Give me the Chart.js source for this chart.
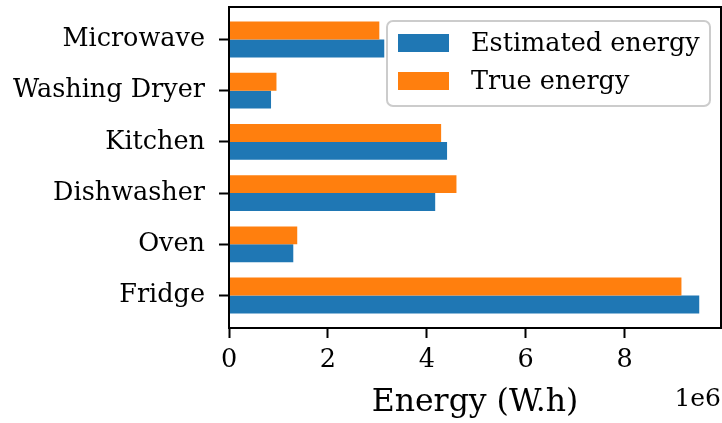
<!DOCTYPE html>
<html>
<head>
<meta charset="utf-8">
<script src="https://cdn.jsdelivr.net/npm/chart.js"></script>
<style>
    html, body { margin: 0; padding: 0; background: #fff; }
    #wrap { width: 722px; height: 423px; }
</style>
</head>
<body>
<div id="wrap"><canvas id="energyChart" width="722" height="423"></canvas></div>
<script>
// Appliances, top to bottom as they appear on the chart
const appliances = ['Microwave', 'Washing Dryer', 'Kitchen', 'Dishwasher', 'Oven', 'Fridge'];

// Energy in W.h
const estimatedEnergy = [3.14e6, 0.85e6, 4.41e6, 4.17e6, 1.30e6, 9.51e6];
const trueEnergy = [3.04e6, 0.96e6, 4.29e6, 4.60e6, 1.38e6, 9.15e6];

const xTicks = [0, 2e6, 4e6, 6e6, 8e6];

const FONT = '"DejaVu Serif", serif';
const BLUE = '#1f77b4';
const ORANGE = '#ff7f0e';

// row position on the y scale: first appliance at the top
const rowOf = i => appliances.length - 1 - i;

// Full box round the plot, the legend box and the 1e6 offset label
const framePlugin = {
    id: 'frame',
    afterDraw(chart) {
        const { ctx, chartArea: a } = chart;
        ctx.save();
        ctx.strokeStyle = '#000';
        ctx.lineWidth = 2;
        ctx.strokeRect(a.left, a.top, a.right - a.left, a.bottom - a.top);

        // legend
        const bx = a.right - 334, by = a.top + 14, bw = 323, bh = 85;
        ctx.beginPath();
        ctx.roundRect(bx, by, bw, bh, 6);
        ctx.fillStyle = 'rgba(255,255,255,0.8)';
        ctx.fill();
        ctx.strokeStyle = '#cccccc';
        ctx.lineWidth = 2;
        ctx.stroke();

        const items = [
            { label: chart.data.datasets[1].label, color: chart.data.datasets[1].backgroundColor },
            { label: chart.data.datasets[0].label, color: chart.data.datasets[0].backgroundColor }
        ];
        ctx.font = '25.5px ' + FONT;
        ctx.textBaseline = 'middle';
        ctx.textAlign = 'left';
        items.forEach((it, i) => {
            const cy = by + 22 + i * 38;
            ctx.fillStyle = it.color;
            ctx.fillRect(bx + 11, cy - 9, 51, 18);
            ctx.fillStyle = '#000';
            ctx.fillText(it.label, bx + 84, cy + 1);
        });

        // offset text
        ctx.font = '25px ' + FONT;
        ctx.textAlign = 'right';
        ctx.fillText('1e6', a.right, 399);
        ctx.restore();
    }
};

new Chart(document.getElementById('energyChart'), {
    type: 'bar',
    data: {
        datasets: [
            {
                label: 'True energy',
                data: trueEnergy.map((v, i) => ({ x: v, y: rowOf(i) })),
                backgroundColor: ORANGE
            },
            {
                label: 'Estimated energy',
                data: estimatedEnergy.map((v, i) => ({ x: v, y: rowOf(i) })),
                backgroundColor: BLUE
            }
        ]
    },
    options: {
        indexAxis: 'y',
        responsive: false,
        devicePixelRatio: 1,
        animation: false,
        categoryPercentage: 0.7,
        barPercentage: 1,
        layout: { padding: { top: 7, right: 1, left: 0, bottom: 0 } },
        scales: {
            y: {
                type: 'linear',
                offset: false,
                min: -0.635,
                max: appliances.length - 1 + 0.635,
                afterBuildTicks: scale => {
                    scale.ticks = appliances.map((_, i) => ({ value: i }));
                },
                afterFit: scale => {
                    scale.width = 229;
                    scale.paddingTop = 0;
                    scale.paddingBottom = 0;
                },
                border: { display: false },
                grid: {
                    offset: false,
                    drawOnChartArea: false,
                    tickLength: 10,
                    tickWidth: 2,
                    tickColor: '#000'
                },
                ticks: {
                    color: '#000',
                    padding: 14,
                    font: { family: FONT, size: 25.5 },
                    callback: value => appliances[rowOf(value)]
                }
            },
            x: {
                type: 'linear',
                min: 0,
                max: 9.95e6,
                afterBuildTicks: scale => {
                    scale.ticks = xTicks.map(v => ({ value: v }));
                },
                afterFit: scale => {
                    scale.height = 95;
                    scale.paddingLeft = 0;
                    scale.paddingRight = 0;
                },
                border: { display: false },
                grid: {
                    drawOnChartArea: false,
                    tickLength: 10,
                    tickWidth: 2,
                    tickColor: '#000'
                },
                ticks: {
                    color: '#000',
                    padding: 7,
                    maxRotation: 0,
                    font: { family: FONT, size: 25.5 },
                    callback: value => String(value / 1e6)
                },
                title: {
                    display: true,
                    text: 'Energy (W.h)',
                    color: '#000',
                    font: { family: FONT, size: 31.5 },
                    padding: { top: 0, bottom: 1 }
                }
            }
        },
        plugins: {
            legend: { display: false },
            tooltip: { enabled: false }
        }
    },
    plugins: [framePlugin]
});
</script>
</body>
</html>
